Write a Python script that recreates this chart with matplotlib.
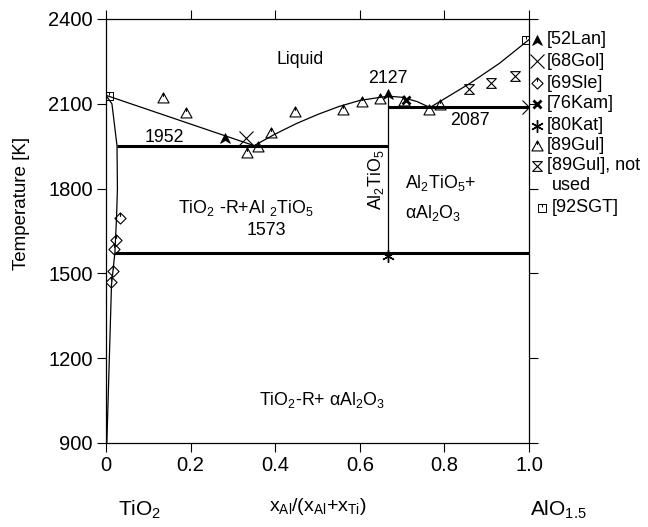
import matplotlib.pyplot as plt
import numpy as np
from matplotlib.path import Path

plt.rcParams['font.family'] = ['Liberation Sans', 'DejaVu Sans']
plt.rcParams['mathtext.fontset'] = 'custom'
plt.rcParams['mathtext.rm'] = 'Liberation Sans'
plt.rcParams['mathtext.it'] = 'Liberation Sans'

# phase boundaries
liq_left_x = [0.0, 0.35]
liq_left_T = [2130, 1952]
liq_mid_x = [0.35, 0.40, 0.45, 0.50, 0.55, 0.60, 0.667, 0.70, 0.735, 0.766]
liq_mid_T = [1952, 1993, 2030, 2062, 2090, 2112, 2127, 2123, 2108, 2087]
liq_right_x = [0.766, 0.86, 0.93, 1.0]
liq_right_T = [2087, 2172, 2243, 2327]
solvus_x = [0.0, 0.014, 0.026, 0.027, 0.025, 0.021, 0.013, 0.002]
solvus_T = [2130, 2100, 1952, 1800, 1700, 1573, 1460, 900]

invariants = {1952: (0.026, 0.667), 1573: (0.021, 1.0), 2087: (0.667, 1.0)}
compound_x = 0.667
compound_T = [1573, 2127]

# experimental data
lan_x, lan_T = [0.281, 0.666], [1978, 2136]
gol_x, gol_T = [0.331, 1.0], [1978, 2087]
sle_x = [0.032, 0.023, 0.020, 0.017, 0.013]
sle_T = [1695, 1618, 1585, 1510, 1470]
kam_x, kam_T = [0.71], [2113]
kat_x, kat_T = [0.667], [1560]
gul_x = [0.135, 0.189, 0.333, 0.36, 0.39, 0.447, 0.561, 0.606, 0.648, 0.705, 0.764, 0.79]
gul_T = [2119, 2066, 1927, 1948, 1996, 2072, 2078, 2107, 2117, 2110, 2078, 2094]
gulnu_x = [0.857, 0.909, 0.967]
gulnu_T = [2151, 2175, 2198]
sgt_x, sgt_T = [0.007, 0.993], [2129, 2325]


def ticked(verts, tip=0.3):
    # closed outline plus a short vertical stroke from the top
    v = list(verts) + [verts[0], (0, 1), (0, tip)]
    c = [Path.MOVETO] + [Path.LINETO] * (len(verts) - 1) + [Path.CLOSEPOLY, Path.MOVETO, Path.LINETO]
    return Path(v, c)


tri = ticked([(0, 1), (1, -0.8), (-1, -0.8)])
dia = ticked([(0, 1), (1, 0), (0, -1), (-1, 0)])
sq = ticked([(-1, 1), (1, 1), (1, -1), (-1, -1)], tip=0.2)
hour = Path([(-1, 1), (1, 1), (-1, -1), (1, -1), (-1, 1)],
            [Path.MOVETO, Path.LINETO, Path.LINETO, Path.LINETO, Path.CLOSEPOLY])
wedge = Path([(0, 1), (1, -1), (0, -0.4), (-1, -1), (0, 1)],
             [Path.MOVETO, Path.LINETO, Path.LINETO, Path.LINETO, Path.CLOSEPOLY])

styles = {
    '[52Lan]': dict(marker=wedge, ms=7, mfc='k', mec='k', mew=0.6),
    '[68Gol]': dict(marker='x', ms=10, mec='k', mew=0.8),
    '[69Sle]': dict(marker=dia, ms=8, mfc='none', mec='k', mew=0.8),
    '[76Kam]': dict(marker='x', ms=6, mec='k', mew=2.0),
    '[80Kat]': dict(marker=(6, 2, 0), ms=9, mec='k', mew=1.0),
    '[89Gul]': dict(marker=tri, ms=8, mfc='none', mec='k', mew=0.8),
    '[89Gul], not\nused': dict(marker=hour, ms=7, mfc='none', mec='k', mew=0.8),
    '[92SGT]': dict(marker=sq, ms=5.5, mfc='none', mec='k', mew=0.7),
}
datasets = [(lan_x, lan_T), (gol_x, gol_T), (sle_x, sle_T), (kam_x, kam_T),
            (kat_x, kat_T), (gul_x, gul_T), (gulnu_x, gulnu_T), (sgt_x, sgt_T)]

fig = plt.figure(figsize=(6.48, 5.27), dpi=100)
ax = fig.add_axes([106 / 648, 1 - 443 / 527, 423 / 648, 424 / 527])

lw = 0.9
ax.plot(liq_left_x, liq_left_T, 'k-', lw=lw)
ax.plot(liq_mid_x, liq_mid_T, 'k-', lw=lw)
ax.plot(liq_right_x, liq_right_T, 'k-', lw=lw)
ax.plot(solvus_x, solvus_T, 'k-', lw=lw)
for T, (x0, x1) in invariants.items():
    ax.plot([x0, x1], [T, T], 'k-', lw=2.2, solid_capstyle='butt')
ax.plot([compound_x, compound_x], compound_T, 'k-', lw=lw)

for (lab, st), (xs, ts) in zip(styles.items(), datasets):
    ax.plot(xs, ts, ls='none', **st)

ax.set_xlim(0, 1.0)
ax.set_ylim(900, 2400)
ax.set_xticks([0, 0.2, 0.4, 0.6, 0.8, 1.0])
ax.set_xticklabels(['0', '0.2', '0.4', '0.6', '0.8', '1.0'])
ax.set_yticks([900, 1200, 1500, 1800, 2100, 2400])
ax.tick_params(direction='out', length=6.5, width=0.8, labelsize=14.5,
               top=True, right=True, pad=3)
for s in ax.spines.values():
    s.set_linewidth(0.9)

ax.set_ylabel('Temperature [K]', fontsize=13.5)
ax.yaxis.set_label_coords(-0.18, 0.566)
ax.set_xlabel(r'x$_\mathrm{Al}$/(x$_\mathrm{Al}$+x$_\mathrm{Ti}$)', fontsize=14, labelpad=15)
ax.text(0.08, -0.158, r'TiO$_2$', transform=ax.transAxes, fontsize=15, ha='center', va='center')
ax.text(1.07, -0.158, r'AlO$_{1.5}$', transform=ax.transAxes, fontsize=15, ha='center', va='center')

fs = 12.8
ax.text(0.46, 2255, 'Liquid', fontsize=fs, ha='center', va='center')
ax.text(0.667, 2190, '2127', fontsize=fs, ha='center', va='center')
ax.text(0.137, 1982, '1952', fontsize=fs, ha='center', va='center')
ax.text(0.86, 2040, '2087', fontsize=fs, ha='center', va='center')
ax.text(0.38, 1652, '1573', fontsize=fs, ha='center', va='center')
ax.text(0.33, 1730, r'TiO$_2$ -R+Al $_2$TiO$_5$', fontsize=fs, ha='center', va='center')
ax.text(0.707, 1820, r'Al$_2$TiO$_5$+', fontsize=fs, ha='left', va='center')
ax.text(0.707, 1715, r'αAl$_2$O$_3$', fontsize=fs, ha='left', va='center')
ax.text(0.638, 1830, r'Al$_2$TiO$_5$', fontsize=fs, ha='center', va='center', rotation=90)
ax.text(0.51, 1052, r'TiO$_2$-R+ αAl$_2$O$_3$', fontsize=fs, ha='center', va='center')

# legend drawn by hand to the right of the frame
leg_py = [40, 61, 83, 104, 126, 146, 166, 208]
for i, ((lab, st), py) in enumerate(zip(styles.items(), leg_py)):
    yy = (443 - py) / 424
    shift = 0.012 if i == len(leg_py) - 1 else 0.0
    ax.plot([1.019 + shift], [yy], ls='none', transform=ax.transAxes, clip_on=False, **st)
    for k, line in enumerate(lab.split('\n')):
        x_txt = 1.042 + shift + (0.013 if k > 0 else 0.0)
        ax.text(x_txt, yy - k * 20 / 424, line, transform=ax.transAxes, fontsize=13,
                ha='left', va='center')

fig.savefig('out.png', dpi=100)
